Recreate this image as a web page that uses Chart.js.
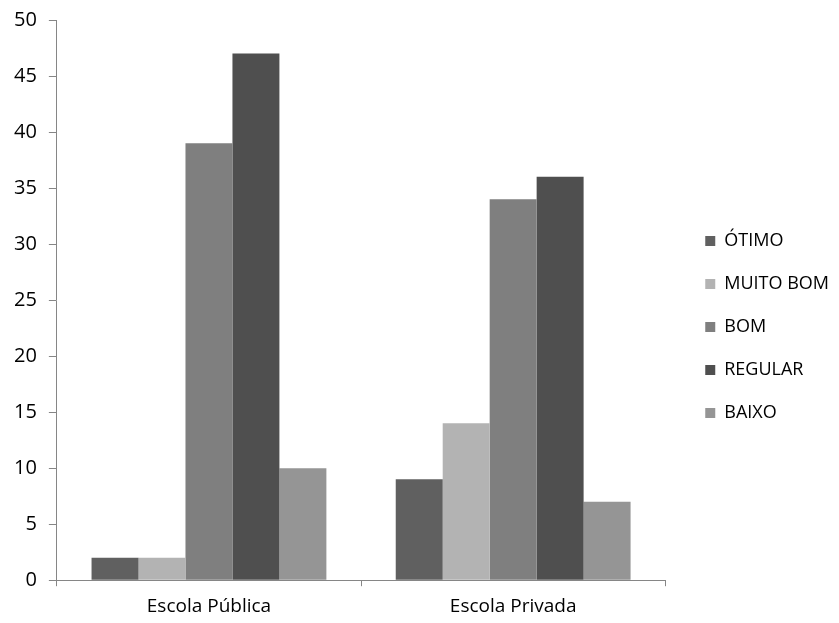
<!DOCTYPE html>
<html>
<head>
<meta charset="utf-8">
<script src="https://cdn.jsdelivr.net/npm/chart.js@4/dist/chart.umd.min.js"></script>
<style>
  html, body { margin: 0; padding: 0; background: #fff; }
  #wrap { width: 839px; height: 623px; }
</style>
</head>
<body>
<div id="wrap"><canvas id="chart"></canvas></div>
<script>
const escolas = ["Escola Pública", "Escola Privada"];
const conceitos = ["ÓTIMO", "MUITO BOM", "BOM", "REGULAR", "BAIXO"];
const otimo = [2, 9];
const muitoBom = [2, 14];
const bom = [39, 34];
const regular = [47, 36];
const baixo = [10, 7];
const cores = ["#606060", "#b3b3b3", "#7f7f7f", "#4f4f4f", "#959595"];

const AXIS = "#868686";
const FAMILY = "'Open Sans', sans-serif";

// empty box between the plot and the legend
const GAP = 15;
const legendGap = {
  id: "legendGap",
  beforeInit(chart) {
    Chart.layouts.addBox(chart, {
      position: "right",
      weight: 500,
      fullSize: false,
      options: {},
      width: 0, height: 0, top: 0, left: 0, right: 0, bottom: 0,
      isHorizontal() { return false; },
      update(maxWidth, maxHeight) { this.width = GAP; this.height = maxHeight; },
      getPadding() { return { top: 0, left: 0, right: 0, bottom: 0 }; },
      draw() {},
    });
  },
};

const series = [otimo, muitoBom, bom, regular, baixo];

new Chart(document.getElementById("chart"), {
  type: "bar",
  data: {
    labels: escolas,
    datasets: series.map((valores, i) => ({
      label: conceitos[i],
      data: valores,
      backgroundColor: cores[i],
      borderWidth: 0,
      categoryPercentage: 0.772,
      barPercentage: 1,
    })),
  },
  options: {
    responsive: true,
    maintainAspectRatio: false,
    animation: false,
    layout: { padding: { top: 16, left: 2, right: 0, bottom: -4 } },
    plugins: {
      legend: {
        position: "right",
        maxWidth: 220,
        // empty title only pushes the entries down a little
        title: { display: true, text: "", font: { size: 9 }, padding: 0 },
        labels: {
          color: "#000",
          font: { family: FAMILY, size: 18 },
          boxWidth: 10,
          boxHeight: 10,
          padding: 25,
        },
      },
      tooltip: { enabled: false },
    },
    scales: {
      x: {
        grid: { drawOnChartArea: false, color: AXIS, tickLength: 6, offset: true },
        border: { color: AXIS },
        ticks: { color: "#000", font: { family: FAMILY, size: 19 }, padding: 9 },
      },
      y: {
        min: 0,
        max: 50,
        ticks: { stepSize: 5, color: "#000", font: { family: FAMILY, size: 20, lineHeight: 0.8 }, padding: 12 },
        grid: { drawOnChartArea: false, color: AXIS, tickLength: 8 },
        border: { color: AXIS },
      },
    },
  },
  plugins: [legendGap],
});
</script>
</body>
</html>
